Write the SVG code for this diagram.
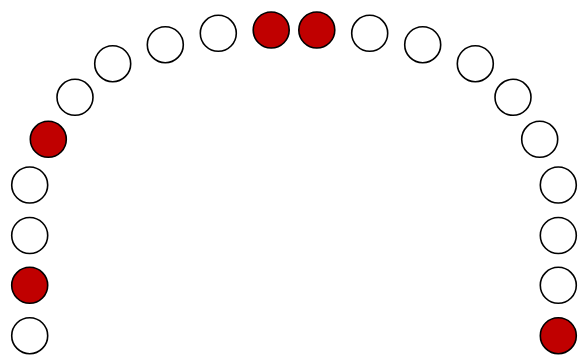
<svg xmlns="http://www.w3.org/2000/svg" width="580" height="358" viewBox="0 0 580 358">
<style>
circle{stroke:#000;stroke-width:1.6;r:18}
.w{fill:#fff}
.r{fill:#c00000}
</style>
<rect width="580" height="358" fill="#fff"/>
<g id="seats">
<g id="s1"><circle class="w" cx="29.7" cy="335.7" r="18"/></g>
<g id="s2"><circle class="r" cx="29.7" cy="285.3" r="18"/></g>
<g id="s3"><circle class="w" cx="29.7" cy="235.5" r="18"/></g>
<g id="s4"><circle class="w" cx="29.7" cy="185" r="18"/></g>
<g id="s5"><circle class="r" cx="48.3" cy="139.3" r="18"/></g>
<g id="s6"><circle class="w" cx="75" cy="97.3" r="18"/></g>
<g id="s7"><circle class="w" cx="112.7" cy="63.7" r="18"/></g>
<g id="s8"><circle class="w" cx="165.3" cy="44.7" r="18"/></g>
<g id="s9"><circle class="w" cx="218.3" cy="33.3" r="18"/></g>
<g id="s10"><circle class="r" cx="271.2" cy="30" r="18"/></g>
<g id="s11"><circle class="r" cx="316.8" cy="30" r="18"/></g>
<g id="s12"><circle class="w" cx="369.7" cy="33.3" r="18"/></g>
<g id="s13"><circle class="w" cx="422.7" cy="44.7" r="18"/></g>
<g id="s14"><circle class="w" cx="475.3" cy="63.7" r="18"/></g>
<g id="s15"><circle class="w" cx="513" cy="97.3" r="18"/></g>
<g id="s16"><circle class="w" cx="539.7" cy="139.3" r="18"/></g>
<g id="s17"><circle class="w" cx="558.3" cy="185" r="18"/></g>
<g id="s18"><circle class="w" cx="558.3" cy="235.5" r="18"/></g>
<g id="s19"><circle class="w" cx="558.3" cy="285.3" r="18"/></g>
<g id="s20"><circle class="r" cx="558.3" cy="335.7" r="18"/></g>
</g>
<g id="connectors"/>
</svg>
